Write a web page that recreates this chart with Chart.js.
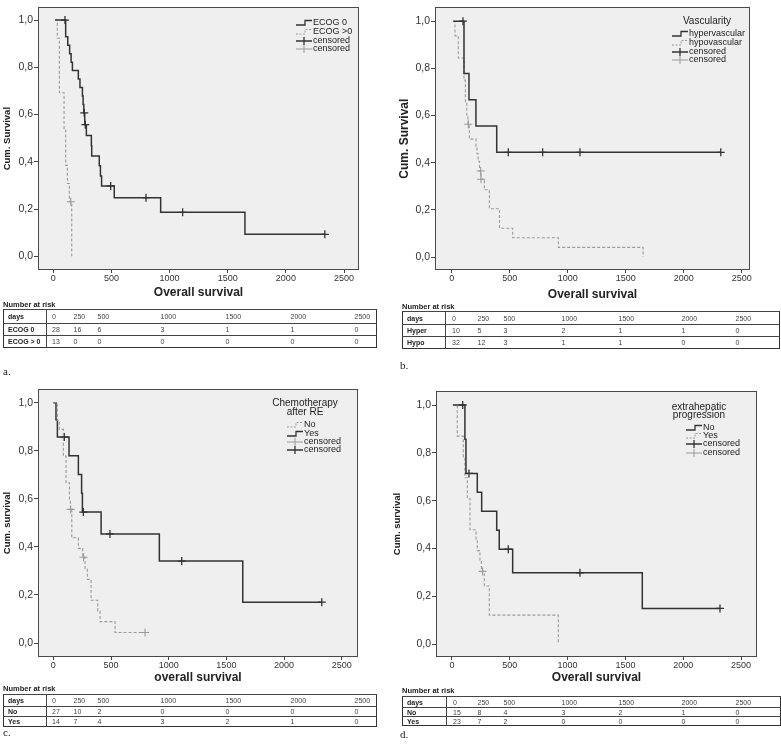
<!DOCTYPE html>
<html lang="en">
<head>
<meta charset="UTF-8">
<title>Kaplan-Meier overall survival</title>
<script src="https://cdn.jsdelivr.net/npm/chart.js@4"></script>
<style>
  body { margin: 0; width: 781px; height: 748px; position: relative; background: #fff; overflow: hidden;
         font-family: 'Liberation Sans', Arial, sans-serif; }
  canvas { position: absolute; }
  .risk-title { position: absolute; font-size: 7.5px; font-weight: bold; color: #222; }
  table.risk { position: absolute; border-collapse: collapse; border: 1.5px solid #333; font-size: 7px;
               color: #444; table-layout: fixed; }
  table.risk td { padding: 0 0 0 5px; border-top: 1px solid #444; white-space: nowrap; line-height: 1; }
  table.risk td:first-child { font-weight: bold; border-right: 1px solid #444; padding-left: 4px; color: #222; }
  .tag { position: absolute; font-family: 'Liberation Serif', 'Times New Roman', serif; font-size: 11px; color: #222; }
</style>
</head>
<body>
<canvas id="ka" width="390" height="302" style="left:0;top:0"></canvas>
<canvas id="kb" width="391" height="304" style="left:390px;top:0"></canvas>
<canvas id="kc" width="390" height="316" style="left:0;top:372px"></canvas>
<canvas id="kd" width="391" height="316" style="left:390px;top:372px"></canvas>

<script>
// ---- data (days, cumulative survival) ----
const xTicks = [0, 500, 1000, 1500, 2000, 2500];
const yTicks = [0, 0.2, 0.4, 0.6, 0.8, 1.0];
const riskDays = [0, 250, 500, 1000, 1500, 2000, 2500];

// a. ECOG
const ecog0Times = [15, 106, 124, 140, 153, 164, 215, 229, 250, 256, 262, 270, 284, 327, 330, 395, 405, 415, 524, 923, 1648];
const ecog0Surv  = [1, 0.929, 0.893, 0.857, 0.821, 0.786, 0.75, 0.714, 0.679, 0.643, 0.607, 0.557, 0.511, 0.468, 0.425, 0.383, 0.34, 0.298, 0.248, 0.186, 0.093];
const ecog0CensT = [100, 266, 275, 493, 797, 1112, 2335];
const ecog0CensS = [1, 0.607, 0.557, 0.298, 0.248, 0.186, 0.093];
const ecogPTimes = [15, 34, 52, 92, 106, 121, 138, 158];
const ecogPSurv  = [1, 0.923, 0.692, 0.538, 0.385, 0.308, 0.231, 0];
const ecogPCensT = [150];
const ecogPCensS = [0.231];

// b. Vascularity
const hyperTimes = [14, 106, 149, 209, 388];
const hyperSurv  = [1, 0.778, 0.667, 0.556, 0.444];
const hyperCensT = [97, 488, 784, 1106, 2320];
const hyperCensS = [1, 0.444, 0.444, 0.444, 0.444];
const hypoTimes = [14, 28, 57, 106, 118, 130, 140, 152, 210, 218, 228, 240, 252, 281, 325, 412, 526, 920, 1650];
const hypoSurv  = [1, 0.938, 0.844, 0.75, 0.656, 0.594, 0.563, 0.5, 0.469, 0.438, 0.406, 0.365, 0.33, 0.285, 0.205, 0.122, 0.082, 0.041, 0];
const hypoCensT = [143, 250, 253];
const hypoCensS = [0.563, 0.365, 0.33];

// c. Chemotherapy after RE
const chemoNoTimes = [0, 35, 52, 87, 110, 140, 148, 160, 217, 255, 275, 295, 327, 385, 405, 535];
const chemoNoSurv  = [1, 0.926, 0.889, 0.778, 0.667, 0.593, 0.556, 0.438, 0.394, 0.357, 0.31, 0.265, 0.178, 0.133, 0.089, 0.044];
const chemoNoCensT = [150, 262, 795];
const chemoNoCensS = [0.556, 0.357, 0.044];
const chemoYesTimes = [0, 23, 35, 136, 217, 245, 252, 414, 919, 1642];
const chemoYesSurv  = [1, 0.929, 0.857, 0.779, 0.701, 0.623, 0.545, 0.454, 0.341, 0.17];
const chemoYesCensT = [95, 260, 491, 1113, 2327];
const chemoYesCensS = [0.857, 0.545, 0.454, 0.341, 0.17];

// d. extrahepatic progression
const extraNoTimes = [10, 112, 121, 219, 257, 387, 409, 525, 1646];
const extraNoSurv  = [1, 0.857, 0.714, 0.635, 0.556, 0.476, 0.397, 0.298, 0.149];
const extraNoCensT = [93, 147, 487, 1107, 2318];
const extraNoCensS = [1, 0.714, 0.397, 0.298, 0.149];
const extraYesTimes = [5, 46, 98, 112, 133, 156, 208, 219, 242, 255, 280, 323, 920];
const extraYesSurv  = [1, 0.87, 0.783, 0.696, 0.609, 0.478, 0.435, 0.391, 0.348, 0.304, 0.243, 0.121, 0];
const extraYesCensT = [265];
const extraYesCensS = [0.304];

// numbers at risk
const riskEcog0 = [28, 16, 6, 3, 1, 1, 0];
const riskEcogP = [13, 0, 0, 0, 0, 0, 0];
const riskHyper = [10, 5, 3, 2, 1, 1, 0];
const riskHypo  = [32, 12, 3, 1, 1, 0, 0];
const riskChemoNo  = [27, 10, 2, 0, 0, 0, 0];
const riskChemoYes = [14, 7, 4, 3, 2, 1, 0];
const riskExtraNo  = [15, 8, 4, 3, 2, 1, 0];
const riskExtraYes = [23, 7, 2, 0, 0, 0, 0];

// ---- drawing ----
const DARK = '#333333', GREY = '#9a9a9a';
const FONT = "'Liberation Sans', Arial, sans-serif";
Chart.defaults.font.family = FONT;

function stepPoints(times, surv, censT) {
  const pts = times.map((t, i) => ({x: t, y: surv[i]}));
  const last = pts[pts.length - 1];
  const end = Math.max(last.x, ...censT);
  if (end > last.x) pts.push({x: end, y: last.y});
  return pts;
}

function curve(times, surv, censT, censS, dark) {
  return [{
    data: stepPoints(times, surv, censT),
    stepped: true, pointRadius: 0, fill: false,
    borderColor: dark ? DARK : GREY, borderWidth: dark ? 1.5 : 1.1,
    borderDash: dark ? [] : [3, 2]
  }, {
    data: censT.map((t, i) => ({x: t, y: censS[i]})),
    showLine: false, pointStyle: 'cross', pointRadius: 4,
    pointBorderColor: dark ? DARK : GREY, pointBorderWidth: dark ? 1.3 : 1.1
  }];
}

const frame = {
  id: 'frame',
  beforeDraw(chart) {
    const {ctx, chartArea: a} = chart;
    ctx.save();
    ctx.fillStyle = '#efefef';
    ctx.fillRect(a.left, a.top, a.right - a.left, a.bottom - a.top);
    ctx.restore();
  },
  afterDraw(chart) {
    const {ctx, chartArea: a} = chart;
    ctx.save();
    ctx.strokeStyle = '#4a4a4a';
    ctx.lineWidth = 1;
    ctx.strokeRect(Math.round(a.left) + 0.5, Math.round(a.top) + 0.5,
                   Math.round(a.right - a.left) - 1, Math.round(a.bottom - a.top) - 1);
    ctx.restore();
  }
};

const kmLegend = {
  id: 'kmLegend',
  afterDatasetsDraw(chart, args, o) {
    const ctx = chart.ctx;
    ctx.save();
    ctx.fillStyle = '#222';
    ctx.textBaseline = 'middle';
    ctx.textAlign = 'center';
    ctx.font = '10px ' + FONT;
    (o.title || []).forEach((t, i) => ctx.fillText(t, o.titleX, o.titleY[i]));
    ctx.textAlign = 'left';
    ctx.font = '9px ' + FONT;
    o.items.forEach((it, i) => {
      const y = o.rows[i], x0 = o.iconX, x1 = x0 + 16;
      ctx.strokeStyle = it.dark ? DARK : GREY;
      ctx.lineWidth = it.dark ? 1.3 : 1;
      ctx.setLineDash(it.step && !it.dark ? [2, 1.5] : []);
      ctx.beginPath();
      if (it.step) {
        ctx.moveTo(x0, y + 2); ctx.lineTo(x0 + 9, y + 2);
        ctx.lineTo(x0 + 9, y - 2.5); ctx.lineTo(x1, y - 2.5);
      } else {
        ctx.moveTo(x0, y); ctx.lineTo(x1, y);
        ctx.moveTo(x0 + 8, y - 4); ctx.lineTo(x0 + 8, y + 4);
      }
      ctx.stroke();
      ctx.setLineDash([]);
      ctx.fillText(it.text, x1 + 1, y);
    });
    ctx.restore();
  }
};

function makePanel(id, p) {
  const lhX = 12 * 1.2, lhY = p.yFont * 1.2;
  new Chart(document.getElementById(id), {
    type: 'line',
    data: {datasets: p.datasets},
    plugins: [frame, kmLegend],
    options: {
      responsive: false,
      animation: false,
      layout: {padding: {top: p.area.t - p.top, right: p.left + p.w - p.area.r, left: 0, bottom: 0}},
      plugins: {legend: {display: false}, tooltip: {enabled: false}, kmLegend: p.legend},
      scales: {
        x: {
          type: 'linear', min: p.xMin, max: p.xMax,
          afterBuildTicks: s => { s.ticks = xTicks.map(v => ({value: v})); },
          afterFit: s => { s.height = p.top + p.h - p.area.b; },
          grid: {drawOnChartArea: false, tickLength: 3, color: '#444'},
          border: {display: false},
          ticks: {padding: 0, color: '#333', font: {size: 9}, maxRotation: 0, autoSkip: false,
                  callback: v => String(v)},
          title: {display: true, text: p.xTitle, color: '#222', font: {size: 12, weight: 'bold'},
                  padding: {top: 0, bottom: p.top + p.h - p.xTitleY - lhX / 2}}
        },
        y: {
          type: 'linear', min: p.yMin, max: p.yMax,
          afterBuildTicks: s => { s.ticks = yTicks.map(v => ({value: v})); },
          afterFit: s => { s.width = p.area.l - p.left; },
          grid: {drawOnChartArea: false, tickLength: 4, color: '#444'},
          border: {display: false},
          ticks: {padding: 1, color: '#333', font: {size: 10.5}, callback: v => v.toFixed(1).replace('.', ',')},
          title: {display: true, text: p.yTitle, color: '#222', font: {size: p.yFont, weight: 'bold'},
                  padding: {top: p.yTitleX - p.left - lhY / 2, bottom: 0}}
        }
      }
    }
  });
}

makePanel('ka', {
  left: 0, top: 0, w: 390, h: 302, area: {l: 38, t: 3, r: 359, b: 270},
  xMin: -132, xMax: 2629, yMin: -0.058, yMax: 1.054,
  xTitle: 'Overall survival', xTitleY: 293, yTitle: 'Cum. Survival', yTitleX: 7, yFont: 9.5,
  datasets: [...curve(ecog0Times, ecog0Surv, ecog0CensT, ecog0CensS, true),
             ...curve(ecogPTimes, ecogPSurv, ecogPCensT, ecogPCensS, false)],
  legend: {iconX: 296, rows: [23, 32, 41, 49], items: [
    {text: 'ECOG 0', step: true, dark: true}, {text: 'ECOG >0', step: true, dark: false},
    {text: 'censored', dark: true}, {text: 'censored', dark: false}]}
});

makePanel('kb', {
  left: 390, top: 0, w: 391, h: 304, area: {l: 435, t: 5, r: 750, b: 270},
  xMin: -144, xMax: 2572, yMin: -0.055, yMax: 1.059,
  xTitle: 'Overall survival', xTitleY: 295, yTitle: 'Cum. Survival', yTitleX: 405, yFont: 12,
  datasets: [...curve(hyperTimes, hyperSurv, hyperCensT, hyperCensS, true),
             ...curve(hypoTimes, hypoSurv, hypoCensT, hypoCensS, false)],
  legend: {title: ['Vascularity'], titleX: 317, titleY: [21], iconX: 282, rows: [34, 43, 52, 60], items: [
    {text: 'hypervascular', step: true, dark: true}, {text: 'hypovascular', step: true, dark: false},
    {text: 'censored', dark: true}, {text: 'censored', dark: false}]}
});

makePanel('kc', {
  left: 0, top: 372, w: 390, h: 316, area: {l: 38, t: 389, r: 358, b: 657},
  xMin: -133, xMax: 2641, yMin: -0.058, yMax: 1.057,
  xTitle: 'overall survival', xTitleY: 678, yTitle: 'Cum. survival', yTitleX: 7, yFont: 9.5,
  datasets: [...curve(chemoNoTimes, chemoNoSurv, chemoNoCensT, chemoNoCensS, false),
             ...curve(chemoYesTimes, chemoYesSurv, chemoYesCensT, chemoYesCensS, true)],
  legend: {title: ['Chemotherapy', 'after RE'], titleX: 305, titleY: [31, 40], iconX: 287, rows: [53, 62, 70, 78], items: [
    {text: 'No', step: true, dark: false}, {text: 'Yes', step: true, dark: true},
    {text: 'censored', dark: false}, {text: 'censored', dark: true}]}
});

makePanel('kd', {
  left: 390, top: 372, w: 391, h: 316, area: {l: 436, t: 391, r: 757, b: 657},
  xMin: -138, xMax: 2638, yMin: -0.054, yMax: 1.0586,
  xTitle: 'Overall survival', xTitleY: 678, yTitle: 'Cum. survival', yTitleX: 397, yFont: 9.5,
  datasets: [...curve(extraNoTimes, extraNoSurv, extraNoCensT, extraNoCensS, true),
             ...curve(extraYesTimes, extraYesSurv, extraYesCensT, extraYesCensS, false)],
  legend: {title: ['extrahepatic', 'progression'], titleX: 309, titleY: [35, 43], iconX: 296, rows: [56, 64, 72, 81], items: [
    {text: 'No', step: true, dark: true}, {text: 'Yes', step: true, dark: false},
    {text: 'censored', dark: true}, {text: 'censored', dark: false}]}
});

// ---- number-at-risk tables ----
function riskTable(t) {
  const lab = document.createElement('div');
  lab.className = 'risk-title';
  lab.textContent = 'Number at risk';
  lab.style.left = t.left + 'px';
  lab.style.top = t.labelTop + 'px';
  document.body.appendChild(lab);

  const tbl = document.createElement('table');
  tbl.className = 'risk';
  tbl.style.left = t.left + 'px';
  tbl.style.top = t.top + 'px';
  const cg = document.createElement('colgroup');
  t.cols.forEach(w => { const c = document.createElement('col'); c.style.width = w + 'px'; cg.appendChild(c); });
  tbl.appendChild(cg);
  const rows = [['days', riskDays], ...t.rows];
  rows.forEach(([name, vals], r) => {
    const tr = document.createElement('tr');
    tr.style.height = t.rowH[r] + 'px';
    [name, ...vals].forEach((v, i) => {
      const td = document.createElement('td');
      td.textContent = v;
      if (i > 0) td.style.paddingLeft = t.pad + 'px';
      tr.appendChild(td);
    });
    tbl.appendChild(tr);
  });
  document.body.appendChild(tbl);

  const tag = document.createElement('div');
  tag.className = 'tag';
  tag.textContent = t.tag;
  tag.style.left = t.tagX + 'px';
  tag.style.top = t.tagY + 'px';
  document.body.appendChild(tag);
}

const colsLeft = [43, 22, 24, 63, 65, 65, 64, 27];
riskTable({left: 3, top: 309, labelTop: 300, cols: colsLeft, pad: 5, rowH: [14, 12, 12],
           rows: [['ECOG 0', riskEcog0], ['ECOG > 0', riskEcogP]], tag: 'a.', tagX: 3, tagY: 365});
riskTable({left: 402, top: 311, labelTop: 302, cols: [43, 26, 26, 58, 57, 63, 54, 50], pad: 6, rowH: [13, 12, 12],
           rows: [['Hyper', riskHyper], ['Hypo', riskHypo]], tag: 'b.', tagX: 400, tagY: 359});
riskTable({left: 3, top: 694, labelTop: 684, cols: colsLeft, pad: 5, rowH: [12, 10, 10],
           rows: [['No', riskChemoNo], ['Yes', riskChemoYes]], tag: 'c.', tagX: 3, tagY: 726});
riskTable({left: 402, top: 696, labelTop: 686, cols: [44, 25, 26, 58, 57, 63, 54, 51], pad: 6, rowH: [11, 9, 9],
           rows: [['No', riskExtraNo], ['Yes', riskExtraYes]], tag: 'd.', tagX: 400, tagY: 728});
</script>
</body>
</html>
